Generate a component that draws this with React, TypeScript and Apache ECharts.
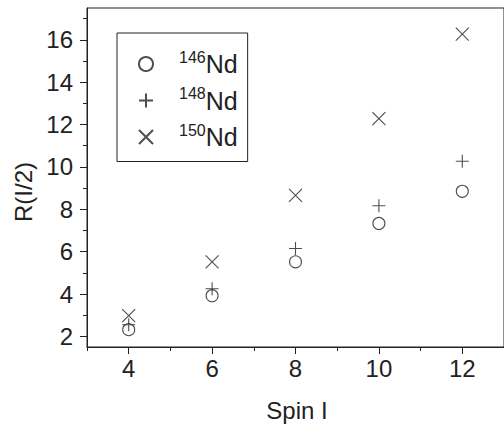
import React, { useEffect, useRef } from "react";
import * as echarts from "echarts";

// Spin values on the x axis
const spins = [4, 6, 8, 10, 12];

// R(I/2) ratios for each isotope
const nd146 = [2.32, 3.92, 5.52, 7.33, 8.85];
const nd148 = [2.55, 4.25, 6.15, 8.17, 10.27];
const nd150 = [2.98, 5.52, 8.66, 12.28, 16.27];

const isotopes = [
  { mass: "146", values: nd146 },
  { mass: "148", values: nd148 },
  { mass: "150", values: nd150 },
];

// Tick positions
const xMajor = [4, 6, 8, 10, 12];
const xMinor = [3, 5, 7, 9, 11, 13];
const yMajor = [2, 4, 6, 8, 10, 12, 14, 16];
const yMinor = [3, 5, 7, 9, 11, 13, 15, 17];

const INK = "#222";
const FONT = "'Liberation Sans', Arial, sans-serif";

const symbols = [
  "circle",
  "path://M0,6H12M6,0V12",
  "path://M0,0L12,12M12,0L0,12",
];

export default function App() {
  const ref = useRef<HTMLDivElement>(null);

  useEffect(() => {
    const chart = echarts.init(ref.current!, null, { renderer: "svg" });

    const baseAxis = {
      axisLine: { show: true, lineStyle: { color: INK, width: 1 } },
      splitLine: { show: false },
    };

    chart.setOption({
      animation: false,
      backgroundColor: "#fff",
      textStyle: { fontFamily: FONT },
      grid: {
        left: 87,
        top: 8,
        right: -4,
        bottom: 78,
        show: true,
        borderColor: INK,
        borderWidth: 1,
        backgroundColor: "transparent",
      },
      xAxis: [
        {
          ...baseAxis,
          type: "value",
          min: 3,
          max: 13,
          axisTick: { show: true, customValues: xMinor, length: 4, lineStyle: { color: INK } },
          axisLabel: { show: false },
        },
        {
          ...baseAxis,
          type: "value",
          position: "bottom",
          min: 3,
          max: 13,
          axisLine: { show: false },
          axisTick: { show: true, customValues: xMajor, length: 7, lineStyle: { color: INK } },
          axisLabel: {
            show: true,
            customValues: xMajor,
            color: INK,
            fontSize: 24,
            fontFamily: FONT,
            margin: 9,
          },
        },
      ],
      yAxis: [
        {
          ...baseAxis,
          type: "value",
          min: 1.5,
          max: 17.5,
          axisTick: { show: true, customValues: yMinor, length: 4, lineStyle: { color: INK } },
          axisLabel: { show: false },
        },
        {
          ...baseAxis,
          type: "value",
          position: "left",
          min: 1.5,
          max: 17.5,
          axisLine: { show: false },
          axisTick: { show: true, customValues: yMajor, length: 7, lineStyle: { color: INK } },
          axisLabel: {
            show: true,
            customValues: yMajor,
            color: INK,
            fontSize: 24,
            fontFamily: FONT,
            margin: 14,
          },
        },
      ],
      legend: {
        orient: "vertical",
        left: 117,
        top: 33,
        padding: [16, 10, 12, 21],
        itemGap: 9,
        itemWidth: 14,
        itemHeight: 14,
        borderColor: INK,
        borderWidth: 1,
        data: isotopes.map((d) => d.mass),
        formatter: (name: string) => `{sup|${name}}{nd|Nd}`,
        textStyle: {
          color: INK,
          rich: {
            sup: {
              fontSize: 16,
              fontFamily: FONT,
              color: INK,
              padding: [0, 0, 14, 21],
            },
            nd: { fontSize: 25, fontFamily: FONT, color: INK },
          },
        },
      },
      series: isotopes.map((iso, i) => ({
        name: iso.mass,
        type: "scatter",
        xAxisIndex: 0,
        yAxisIndex: 0,
        symbol: symbols[i],
        symbolSize: i === 0 ? 12 : 13,
        itemStyle: { color: "transparent", borderColor: INK, borderWidth: 1.1 },
        data: spins.map((s, k) => [s, iso.values[k]]),
      })),
      graphic: [
        {
          type: "text",
          x: 23,
          y: 192,
          rotation: Math.PI / 2,
          style: {
            text: "R(I/2)",
            fill: INK,
            font: `24px ${FONT}`,
            align: "center",
            verticalAlign: "middle",
          },
        },
        {
          type: "text",
          x: 297,
          y: 410,
          style: {
            text: "Spin I",
            fill: INK,
            font: `24px ${FONT}`,
            align: "center",
            verticalAlign: "middle",
          },
        },
      ],
    });

    return () => chart.dispose();
  }, []);

  return <div ref={ref} style={{ width: 504, height: 425, position: "absolute", left: 0, top: 0 }} />;
}
